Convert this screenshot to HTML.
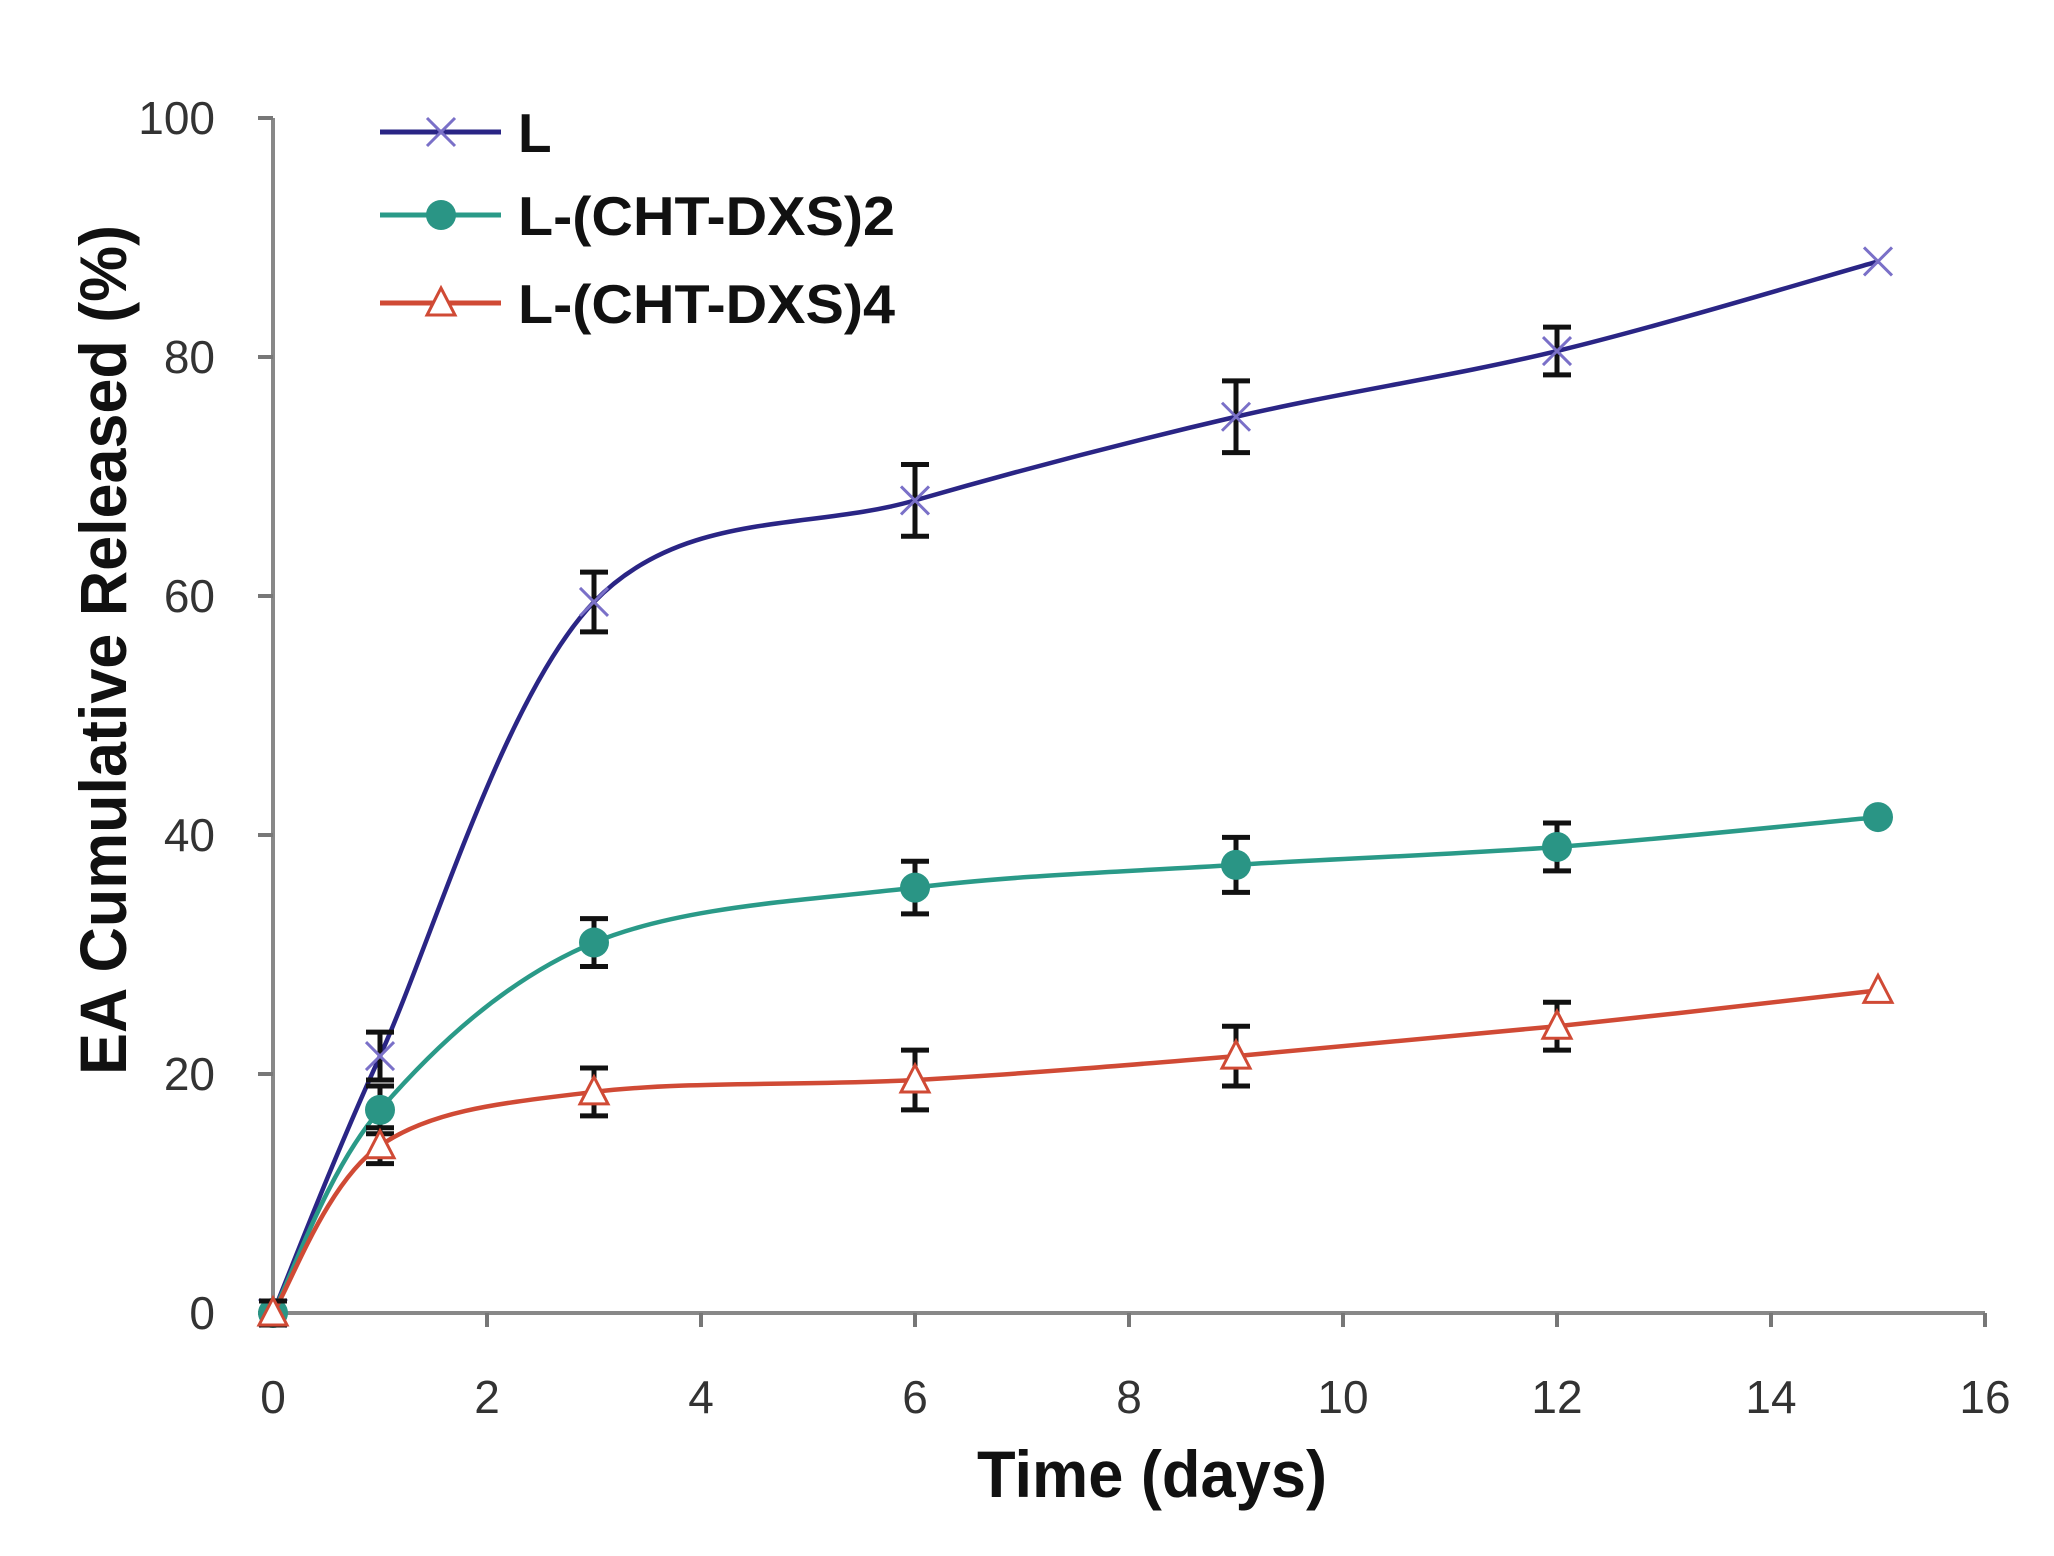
<!DOCTYPE html>
<html><head><meta charset="utf-8"><style>
html,body{margin:0;padding:0;background:#fff;}
svg{display:block;font-family:"Liberation Sans",Arial,sans-serif;}
</style></head><body>
<svg id="chart" width="2054" height="1556" viewBox="0 0 2054 1556" xmlns="http://www.w3.org/2000/svg">
<rect width="2054" height="1556" fill="#fff"/>
<g id="axes"></g>
<g id="series"></g>
<g id="legend"></g>
<text x="1152" y="1497" text-anchor="middle" font-size="66" font-weight="bold" fill="#111" textLength="350" lengthAdjust="spacingAndGlyphs">Time (days)</text>
<text transform="translate(126,650) rotate(-90)" text-anchor="middle" font-size="66" font-weight="bold" fill="#111" textLength="850" lengthAdjust="spacingAndGlyphs">EA Cumulative Released (%)</text>
</svg>
<script>
const days = [0, 1, 3, 6, 9, 12, 15];
const seriesNames = ["L", "L-(CHT-DXS)2", "L-(CHT-DXS)4"];
const valuesL = [0, 21.5, 59.5, 68, 75, 80.5, 88];
const errL = [1, 2, 2.5, 3, 3, 2, 0];
const valuesC2 = [0, 17, 31, 35.6, 37.5, 39, 41.5];
const errC2 = [1, 2, 2, 2.2, 2.3, 2, 0];
const valuesC4 = [0, 14, 18.5, 19.5, 21.5, 24, 27];
const errC4 = [1, 1.5, 2, 2.5, 2.5, 2, 0];
const xTicks = [0, 2, 4, 6, 8, 10, 12, 14, 16];
const yTicks = [0, 20, 40, 60, 80, 100];

const NS = "http://www.w3.org/2000/svg";
const X0 = 273, XU = 107, Y0 = 1313, YU = 11.95;
function xs(v){ return X0 + v*XU; }
function ys(v){ return Y0 - v*YU; }
function mk(tag, attrs, parent){
  const e = document.createElementNS(NS, tag);
  for (const k in attrs) e.setAttribute(k, attrs[k]);
  parent.appendChild(e); return e;
}
const axes = document.getElementById('axes');
let a = mk('line',{x1:X0,y1:ys(100),x2:X0,y2:Y0,stroke:'#888','stroke-width':4},axes);


a = mk('line',{x1:X0,y1:Y0,x2:xs(16),y2:Y0,stroke:'#888','stroke-width':4},axes);


yTicks.forEach(t=>{
  const l = mk('line',{x1:X0-15,y1:ys(t),x2:X0,y2:ys(t),stroke:'#777','stroke-width':4},axes);
  
  
  const tx = mk('text',{x:215,y:ys(t)+16,'text-anchor':'end','font-size':46,fill:'#333'},axes);
  
  
  tx.textContent = t;
});
xTicks.forEach(t=>{
  const l = mk('line',{x1:xs(t),y1:Y0,x2:xs(t),y2:Y0+14,stroke:'#777','stroke-width':4},axes);
  
  
  const tx = mk('text',{x:xs(t),y:1413,'text-anchor':'middle','font-size':46,fill:'#333'},axes);
  
  
  tx.textContent = t;
});

function smooth(pts){
  let d = 'M'+pts[0][0]+','+pts[0][1];
  for (let i=0;i<pts.length-1;i++){
    const p0=pts[Math.max(0,i-1)], p1=pts[i], p2=pts[i+1], p3=pts[Math.min(pts.length-1,i+2)];
    const c1x=p1[0]+(p2[0]-p0[0])/6, c1y=p1[1]+(p2[1]-p0[1])/6;
    const c2x=p2[0]-(p3[0]-p1[0])/6, c2y=p2[1]-(p3[1]-p1[1])/6;
    d += ' C'+c1x+','+c1y+' '+c2x+','+c2y+' '+p2[0]+','+p2[1];
  }
  return d;
}
function marker(type, cx, cy, color, g){
  let m;
  if (type==='x'){
    m = mk('path',{d:`M${cx-14},${cy-14}L${cx+14},${cy+14}M${cx-14},${cy+14}L${cx+14},${cy-14}`,stroke:'#7a70c8','stroke-width':3,fill:'none'},g);
  } else if (type==='o'){
    m = mk('circle',{cx:cx,cy:cy,r:15,fill:'#2a9585'},g);
  } else {
    m = mk('path',{d:`M${cx},${cy-15}L${cx+14},${cy+12}L${cx-14},${cy+12}Z`,stroke:'#d04a35','stroke-width':3,fill:'#fff'},g);
  }
  return m;
}
const seriesDefs = [
  {name:'series-l', vals:valuesL, errs:errL, color:'#2a2585', mark:'x'},
  {name:'series-cht-dxs-2', vals:valuesC2, errs:errC2, color:'#2a9a88', mark:'o'},
  {name:'series-cht-dxs-4', vals:valuesC4, errs:errC4, color:'#d04a35', mark:'t'}
];
const sg = document.getElementById('series');
seriesDefs.forEach(s=>{
  const g = mk('g',{},sg);
  
  
  const pts = days.map((d,i)=>[xs(d), ys(s.vals[i])]);
  const p = mk('path',{d:smooth(pts),stroke:s.color,'stroke-width':4.5,fill:'none'},g);
  
  
  days.forEach((d,i)=>{
    const cx=xs(d), cy=ys(s.vals[i]);
    if (s.errs[i]>0){
      const t=ys(s.vals[i]+s.errs[i]), b=ys(s.vals[i]-s.errs[i]);
      const e = mk('path',{d:`M${cx},${t}L${cx},${b}M${cx-14},${t}L${cx+14},${t}M${cx-14},${b}L${cx+14},${b}`,stroke:'#111','stroke-width':5,fill:'none'},g);
      
      
    }
    const m = marker(s.mark,cx,cy,s.color,g);
    
    
  });
});
const lg = document.getElementById('legend');
const legY = [132, 215, 303];
seriesDefs.forEach((s,i)=>{
  const g = mk('g',{},lg);
  
  
  mk('line',{x1:380,y1:legY[i],x2:501,y2:legY[i],stroke:s.color,'stroke-width':5},g);
  marker(s.mark,441,legY[i],s.color,g);
  const t = mk('text',{x:518,y:legY[i]+20,'font-size':55,'font-weight':'bold',fill:'#111'},g);
  if (i>0){ t.setAttribute('textLength',377); t.setAttribute('lengthAdjust','spacingAndGlyphs'); }
  t.textContent = seriesNames[i];
});
</script>
</body></html>
